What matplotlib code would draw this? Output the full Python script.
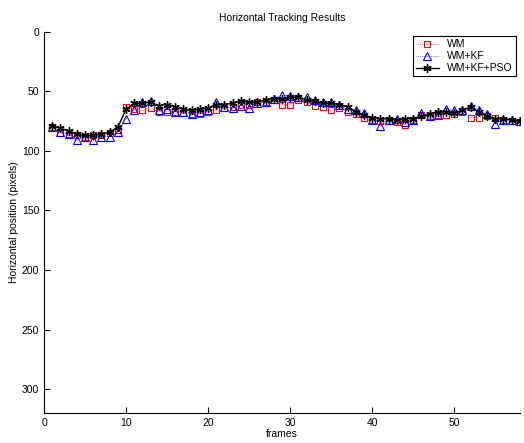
import matplotlib
matplotlib.use("Agg")
import matplotlib.pyplot as plt
import numpy as np

plt.rcParams['font.family'] = ['Liberation Sans', 'DejaVu Sans']

frames = np.arange(1, 59)

wm = [80, 85, 86, 87, 88, 87, 87, 85, 82, 63,
      65, 66, 64, 67, 67, 67, 68, 69, 69, 67,
      66, 64, 63, 61, 61, 59, 59, 57, 61, 61,
      57, 59, 62, 63, 66, 64, 67, 69, 72, 74,
      75, 75, 76, 78, 74, 70, 71, 70, 70, 69,
      67, 72, 72, 71, 72, 74, 75, 76]

wm_kf = [80, 84, 86, 91, 88, 91, 88, 88, 84, 73,
         66, 59, 58, 66, 65, 67, 67, 69, 67, 66,
         59, 63, 64, 62, 64, 60, 59, 56, 53, 54,
         55, 55, 57, 59, 59, 61, 65, 66, 68, 74,
         79, 74, 73, 76, 74, 68, 71, 70, 65, 66,
         66, 62, 66, 69, 77, 74, 74, 75]

wm_kf_pso = [79, 81, 83, 86, 87, 87, 86, 84, 80, 65,
             60, 60, 59, 62, 61, 63, 65, 66, 65, 64,
             61, 61, 60, 58, 59, 59, 57, 56, 56, 55,
             55, 57, 58, 60, 60, 61, 63, 67, 70, 72,
             73, 73, 74, 73, 73, 71, 69, 67, 67, 68,
             66, 63, 67, 71, 73, 73, 74, 75]

fig = plt.figure(figsize=(5.24, 4.43), dpi=100)
ax = fig.add_axes([0.084, 0.068, 0.908, 0.86])

ax.plot(frames, wm, 'rs:', markerfacecolor='none', markersize=5, linewidth=0.5,
        markeredgewidth=0.8, label='WM')
ax.plot(frames, wm_kf, 'b^:', markerfacecolor='none', markersize=6, linewidth=0.5,
        markeredgewidth=0.8, label='WM+KF')
ax.plot(frames, wm_kf_pso, color='black', marker=(6, 2, 0), markersize=6,
        markeredgewidth=1.0, linewidth=1.0, label='WM+KF+PSO')

ax.set_xlim(0, 58)
ax.set_ylim(320, 0)
ax.set_xticks([0, 10, 20, 30, 40, 50])
ax.set_yticks([0, 50, 100, 150, 200, 250, 300])
ax.tick_params(direction='in', labelsize=7.5, length=4)
ax.spines['top'].set_visible(False)
ax.spines['right'].set_visible(False)

ax.set_title('Horizontal Tracking Results', fontsize=7.5, pad=8)
ax.set_xlabel('frames', fontsize=7.5, labelpad=1)
ax.set_ylabel('Horizontal position (pixels)', fontsize=7.5, labelpad=2)

leg = ax.legend(loc='upper right', fontsize=7.5, fancybox=False, edgecolor='black',
                framealpha=1, borderaxespad=0.4, handlelength=2.2, borderpad=0.3,
                labelspacing=0.2)
leg.get_frame().set_linewidth(0.8)

fig.savefig('out.png', dpi=100)
